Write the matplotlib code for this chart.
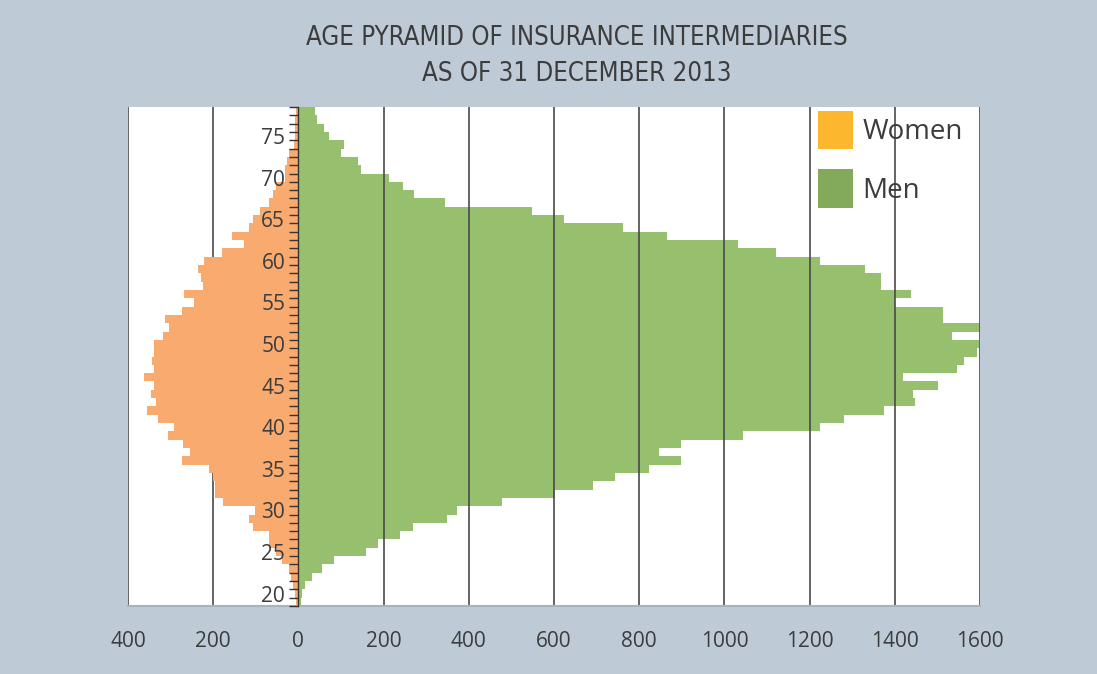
import numpy as np
import matplotlib
matplotlib.use('Agg')
import matplotlib.pyplot as plt
import matplotlib.ticker as mticker
from matplotlib.patches import Patch

# =============================================================================
# Dados (idade 19 a 78)
# =============================================================================
idades = list(range(19, 79))

homens = [
    5, 8, 16, 31, 56, 83, 159, 186, 238, 270,          # 19-28
    349, 372, 478, 603, 691, 744, 824, 897, 846, 898,  # 29-38
    1044, 1224, 1280, 1374, 1447, 1443, 1501, 1420,    # 39-46
    1546, 1563, 1592, 1598, 1534, 1610, 1512, 1512,    # 47-54
    1401, 1439, 1367, 1367, 1330, 1224, 1120, 1031,    # 55-62
    865, 761, 624, 548, 345, 272, 246, 212,            # 63-70
    147, 139, 99, 108, 73, 59, 43, 38,                 # 71-78
]

mulheres = [
    5, 9, 13, 17, 21, 39, 52, 68, 68, 106,             # 19-28
    115, 102, 176, 196, 196, 201, 211, 273, 254, 272,  # 29-38
    307, 291, 329, 356, 334, 347, 340, 363,            # 39-46
    340, 344, 340, 340, 318, 304, 313, 274,            # 47-54
    246, 269, 223, 228, 235, 222, 179, 127,            # 55-62
    156, 117, 107, 89, 70, 60, 52, 31,                 # 63-70
    31, 27, 21, 10, 9, 8, 7, 6,                        # 71-78
]

x_ticks = [-400, -200, 0, 200, 400, 600, 800, 1000, 1200, 1400, 1600]
y_ticks = [20, 25, 30, 35, 40, 45, 50, 55, 60, 65, 70, 75]

titulo = 'AGE PYRAMID OF INSURANCE INTERMEDIARIES\nAS OF 31 DECEMBER 2013'

# cores
COR_FUNDO = '#BECBD7'
COR_MULHER = '#F9AA6F'
COR_HOMEM = '#96BF6E'
COR_LEG_MULHER = '#FDB72E'
COR_LEG_HOMEM = '#83A95A'
COR_TEXTO = '#3C3C3C'

plt.rcParams['font.family'] = ['Open Sans', 'DejaVu Sans']

W, H = 1097, 674
fig = plt.figure(figsize=(W / 100, H / 100), dpi=100, facecolor=COR_FUNDO)
ax = fig.add_axes([128 / W, (H - 606) / H, (980 - 128) / W, (606 - 107) / H])
ax.set_facecolor('white')

# barras: homens por baixo da grade, mulheres por cima
ax.barh(idades, homens, height=1.0, color=COR_HOMEM, linewidth=0, zorder=1)
ax.barh(idades, [-v for v in mulheres], height=1.0, color=COR_MULHER,
        linewidth=0, zorder=3)

ax.set_xlim(-400, 1600)
ax.set_ylim(18.5, 78.5)

# eixo x
ax.xaxis.set_major_locator(mticker.FixedLocator(x_ticks))
ax.xaxis.set_major_formatter(mticker.FuncFormatter(lambda v, p: f'{abs(int(v))}'))
ax.tick_params(axis='x', length=0, pad=18, labelsize=15, labelcolor=COR_TEXTO)
ax.grid(axis='x', color='#4A4A4A', linewidth=1.2)

# eixo y no zero, rótulos no centro das barras e traços nas bordas
ax.spines['left'].set_position(('data', 0))
ax.spines['left'].set_color('#333333')
ax.spines['left'].set_linewidth(1.0)
ax.spines['left'].set_zorder(5)
ax.yaxis.set_major_locator(mticker.FixedLocator(y_ticks))
ax.yaxis.set_minor_locator(mticker.FixedLocator(np.arange(18.5, 79, 1)))
ax.tick_params(axis='y', which='major', length=0, pad=9.5, labelsize=15,
               labelcolor=COR_TEXTO)
ax.tick_params(axis='y', which='minor', length=6.5, width=1.0, color='#333333')

for lado in ['top', 'right']:
    ax.spines[lado].set_visible(False)
ax.spines['bottom'].set_color('#A7B3BF')
ax.spines['bottom'].set_linewidth(1.5)

ax.xaxis.set_zorder(1.5)
ax.yaxis.set_zorder(5)

# título (fonte condensada)
fig.text(576.5 / W, 1 - 56 / H, titulo, ha='center', va='center',
         fontsize=18.5, color=COR_TEXTO, linespacing=1.5,
         family='DejaVu Sans', fontstretch='condensed')

# legenda
handles = [Patch(facecolor=COR_LEG_MULHER, edgecolor='none', label='Women'),
           Patch(facecolor=COR_LEG_HOMEM, edgecolor='none', label='Men')]
leg = ax.legend(handles=handles, loc='upper left',
                bbox_to_anchor=(818 / W, 1 - 111 / H),
                bbox_transform=fig.transFigure, frameon=False,
                fontsize=20, handlelength=1.25, handleheight=1.75,
                labelspacing=0.72, handletextpad=0.36, borderpad=0,
                borderaxespad=0)
for t in leg.get_texts():
    t.set_color(COR_TEXTO)
leg.set_zorder(6)

plt.savefig('out.png', dpi=100, facecolor=COR_FUNDO)
